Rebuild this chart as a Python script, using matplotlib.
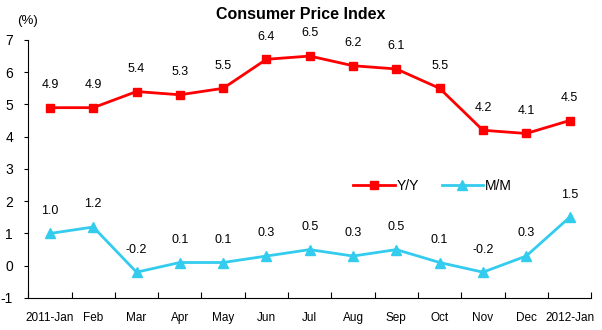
import matplotlib.pyplot as plt
import matplotlib
matplotlib.rcParams['font.family'] = ['Liberation Sans', 'DejaVu Sans']
matplotlib.rcParams['axes.unicode_minus'] = False

months = ["2011-Jan", "Feb", "Mar", "Apr", "May", "Jun", "Jul", "Aug", "Sep", "Oct", "Nov", "Dec", "2012-Jan"]
yoy = [4.9, 4.9, 5.4, 5.3, 5.5, 6.4, 6.5, 6.2, 6.1, 5.5, 4.2, 4.1, 4.5]
mom = [1.0, 1.2, -0.2, 0.1, 0.1, 0.3, 0.5, 0.3, 0.5, 0.1, -0.2, 0.3, 1.5]

fig = plt.figure(figsize=(6.02, 3.30), dpi=100)
ax = fig.add_axes([0.047, 0.097, 0.935, 0.782])
x = range(len(months))
ax.plot(x, yoy, color='#FF0000', marker='s', markersize=6, lw=2, label='Y/Y')
ax.plot(x, mom, color='#33CCEE', marker='^', markersize=7, lw=2, label='M/M')

for i in x:
    ax.annotate(f"{yoy[i]:.1f}", (i, yoy[i]), xytext=(0, 12), textcoords='offset points',
                ha='center', va='bottom', fontsize=9)
    ax.annotate(f"{mom[i]:.1f}", (i, mom[i]), xytext=(0, 12), textcoords='offset points',
                ha='center', va='bottom', fontsize=9)

ax.set_xlim(-0.5, len(months) - 0.5)
ax.set_ylim(-1, 7)
ax.set_yticks(range(-1, 8))
ax.set_xticks([i - 0.5 for i in range(len(months) + 1)], minor=False)
ax.set_xticklabels([])
ax.set_xticks(list(x), minor=True)
ax.set_xticklabels(months, minor=True, fontsize=8.5, fontstretch='condensed')
ax.tick_params(axis='x', which='minor', length=0, pad=10)
ax.tick_params(axis='x', which='major', direction='in', length=4)
ax.tick_params(axis='y', direction='out', length=3, labelsize=10, pad=8)
for s in ['top', 'right']:
    ax.spines[s].set_visible(False)

ax.legend(loc='center left', bbox_to_anchor=(0.555, 0.435), ncol=2, frameon=False,
          fontsize=10, handlelength=3, columnspacing=1.6, handletextpad=0.15)

fig.text(0.5, 0.955, "Consumer Price Index", ha='center', va='center', fontsize=11.5, fontweight='bold')
fig.text(0.045, 0.935, "(%)", ha='center', va='center', fontsize=9.5)

fig.savefig('out.png', dpi=100)
